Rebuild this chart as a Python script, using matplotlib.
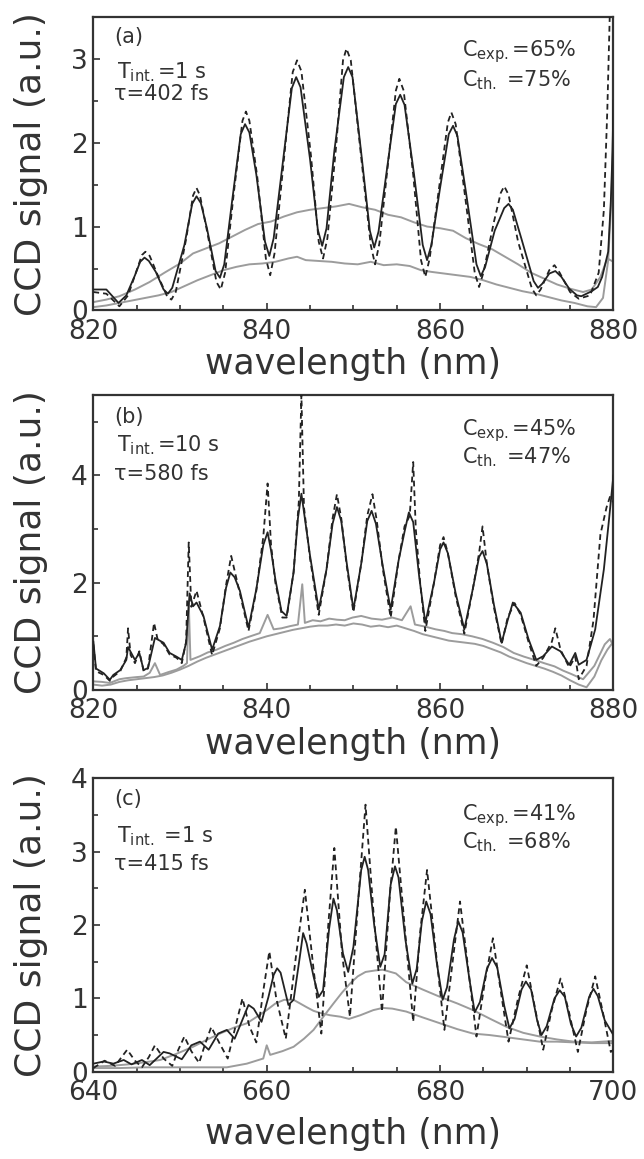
import matplotlib
matplotlib.use("Agg")
import matplotlib.pyplot as plt
from matplotlib.ticker import MultipleLocator

plt.rcParams['font.family'] = ['DejaVu Sans']
plt.rcParams['mathtext.fontset'] = 'dejavusans'

# ---- panel (a): 820-880 nm, T_int = 1 s ----
a_solid_x = [820.0, 821.5, 822.9, 823.8, 824.8, 825.4, 825.9, 826.4, 827.2, 828.1, 828.6, 829.1, 830.5, 831.4, 831.9,
             832.4, 833.1, 834.1, 834.6, 835.1, 836.0, 837.0, 837.5, 838.0, 838.8, 839.8, 840.3, 840.8, 841.9, 842.9,
             843.4, 843.9, 845.0, 845.9, 846.4, 846.9, 847.8, 848.9, 849.4, 849.9, 850.9, 851.9, 852.4, 852.9, 854.0,
             854.9, 855.4, 855.9, 857.0, 858.0, 858.5, 859.0, 860.0, 861.0, 861.5, 862.0, 863.0, 864.2, 864.7, 865.2,
             866.3, 867.4, 867.9, 868.4, 869.4, 870.8, 871.3, 871.8, 872.6, 873.3, 874.0, 874.9, 875.8, 876.3, 877.5,
             878.2, 878.7, 879.4, 879.7, 879.9, 880.0]
a_solid_y = [0.25, 0.25, 0.09, 0.18, 0.42, 0.58, 0.63, 0.59, 0.46, 0.25, 0.20, 0.27, 0.78, 1.27, 1.36,
             1.28, 0.98, 0.47, 0.39, 0.55, 1.30, 2.10, 2.22, 2.12, 1.62, 0.82, 0.65, 0.86, 1.80, 2.65,
             2.78, 2.66, 1.80, 0.96, 0.77, 0.98, 1.90, 2.78, 2.90, 2.78, 1.88, 0.95, 0.75, 0.94, 1.78,
             2.46, 2.57, 2.45, 1.62, 0.78, 0.60, 0.78, 1.46, 2.10, 2.20, 2.08, 1.40, 0.55, 0.41, 0.52,
             0.95, 1.22, 1.27, 1.20, 0.85, 0.35, 0.27, 0.32, 0.44, 0.47, 0.40, 0.26, 0.18, 0.17, 0.23,
             0.28, 0.40, 0.70, 1.30, 1.90, 2.50]
a_dash_x = [820.0, 821.5, 823.0, 824.0, 825.0, 825.6, 826.0, 826.5, 827.3, 828.5, 829.0, 829.5, 830.7, 831.5, 831.9,
            832.3, 833.2, 834.2, 834.7, 835.2, 836.2, 837.2, 837.6, 838.0, 838.9, 839.9, 840.4, 840.9, 842.0, 843.0,
            843.5, 844.0, 845.1, 846.0, 846.5, 847.0, 848.0, 848.8, 849.2, 849.7, 850.8, 852.0, 852.5, 853.0, 854.1,
            854.9, 855.3, 855.8, 856.9, 857.8, 858.3, 858.8, 860.0, 860.9, 861.3, 861.8, 862.9, 864.0, 864.5, 865.0,
            866.2, 867.0, 867.4, 867.9, 869.0, 870.6, 871.1, 871.6, 872.6, 873.2, 873.8, 875.0, 876.0, 877.3, 878.3,
            878.9, 879.3, 879.6]
a_dash_y = [0.22, 0.20, 0.05, 0.18, 0.48, 0.66, 0.70, 0.65, 0.45, 0.17, 0.13, 0.22, 0.85, 1.37, 1.46,
            1.37, 0.90, 0.34, 0.25, 0.45, 1.40, 2.26, 2.37, 2.26, 1.60, 0.62, 0.42, 0.68, 1.82, 2.84,
            2.98, 2.85, 1.85, 0.82, 0.62, 0.86, 1.95, 2.98, 3.12, 2.98, 1.92, 0.78, 0.55, 0.80, 1.85,
            2.62, 2.76, 2.62, 1.62, 0.60, 0.40, 0.62, 1.55, 2.24, 2.36, 2.22, 1.35, 0.45, 0.28, 0.45,
            1.05, 1.40, 1.48, 1.38, 0.82, 0.26, 0.18, 0.25, 0.48, 0.54, 0.45, 0.22, 0.14, 0.18, 0.45,
            1.20, 2.40, 3.60]
a_gray1_x = [820.0, 821.5, 823.0, 824.8, 826.5, 828.2, 830.0, 831.5, 833.0, 834.5, 836.0, 837.5, 839.0, 840.5,
             842.0, 843.5, 845.0, 846.5, 848.0, 849.5, 851.0, 852.5, 854.0, 855.5, 857.0, 858.5, 860.0, 861.5,
             863.0, 864.5, 866.0, 867.5, 869.0, 870.5, 872.0, 873.5, 875.0, 876.5, 877.5, 878.5, 879.3, 880.0]
a_gray1_y = [0.10, 0.13, 0.17, 0.25, 0.34, 0.45, 0.56, 0.68, 0.74, 0.80, 0.88, 0.96, 1.03, 1.06,
             1.12, 1.17, 1.20, 1.22, 1.24, 1.27, 1.23, 1.20, 1.14, 1.11, 1.05, 1.00, 0.98, 0.95,
             0.86, 0.79, 0.73, 0.64, 0.55, 0.45, 0.38, 0.31, 0.26, 0.22, 0.25, 0.40, 0.62, 0.58]
a_gray2_x = [820.0, 821.5, 823.0, 824.5, 826.0, 827.5, 829.0, 830.5, 832.0, 833.5, 835.0, 836.5, 838.0, 839.5,
             841.0, 842.5, 843.5, 844.5, 846.0, 847.5, 849.0, 850.5, 852.0, 853.5, 855.0, 856.5, 857.8, 859.0,
             860.5, 862.0, 863.5, 865.0, 866.5, 868.0, 869.5, 871.0, 872.5, 874.0, 875.5, 877.0, 878.0, 878.8,
             879.4, 879.8, 880.0]
a_gray2_y = [0.04, 0.06, 0.09, 0.12, 0.15, 0.18, 0.22, 0.29, 0.36, 0.42, 0.48, 0.52, 0.55, 0.56,
             0.58, 0.62, 0.64, 0.60, 0.59, 0.58, 0.56, 0.55, 0.58, 0.54, 0.55, 0.53, 0.48, 0.46,
             0.44, 0.42, 0.40, 0.36, 0.31, 0.27, 0.23, 0.20, 0.16, 0.12, 0.09, 0.05, 0.04, 0.15,
             0.60, 1.40, 2.30]

# ---- panel (b): 820-880 nm, T_int = 10 s ----
b_solid_x = [820.0, 820.3, 821.2, 821.9, 822.3, 823.1, 823.8, 824.0, 824.8, 825.3, 825.8, 826.3, 827.1, 828.1, 828.8,
             829.6, 830.2, 830.7, 831.1, 831.5, 831.9, 832.7, 833.7, 834.6, 835.3, 835.8, 836.3, 836.9, 837.9, 838.8,
             839.6, 840.1, 840.5, 841.0, 841.7, 842.3, 843.1, 843.6, 844.0, 844.4, 845.0, 846.0, 846.9, 847.6, 848.1,
             848.6, 849.2, 850.0, 850.9, 851.6, 852.1, 852.6, 853.4, 854.3, 855.2, 855.9, 856.4, 856.9, 857.6, 858.3,
             859.3, 860.0, 860.4, 860.9, 861.8, 862.8, 863.8, 864.5, 864.9, 865.4, 866.2, 867.1, 867.8, 868.4, 869.3,
             870.2, 871.1, 871.9, 872.9, 873.9, 874.9, 875.6, 876.0, 876.9, 877.9, 878.9, 879.5, 880.0]
b_solid_y = [0.90, 0.40, 0.31, 0.19, 0.28, 0.37, 0.56, 0.80, 0.56, 0.69, 0.37, 0.41, 0.97, 0.88, 0.69,
             0.62, 0.56, 0.88, 1.80, 1.56, 1.63, 1.38, 0.75, 1.19, 1.90, 2.19, 2.10, 1.85, 1.16, 1.88,
             2.70, 2.94, 2.60, 2.06, 1.47, 1.38, 2.19, 3.20, 3.66, 3.20, 2.50, 1.50, 2.25, 3.10, 3.41,
             3.15, 2.40, 1.50, 2.35, 3.15, 3.34, 3.10, 2.30, 1.50, 2.40, 2.95, 3.31, 3.13, 2.10, 1.25,
             2.00, 2.62, 2.75, 2.55, 1.80, 1.13, 1.90, 2.48, 2.59, 2.35, 1.60, 0.88, 1.30, 1.63, 1.44,
             0.95, 0.56, 0.63, 0.81, 0.72, 0.47, 0.69, 0.47, 0.56, 1.13, 2.25, 3.19, 4.00]
b_dash_x = [820.0, 820.3, 821.2, 821.9, 822.3, 823.1, 823.8, 824.0, 824.3, 824.8, 825.3, 825.8, 826.3, 827.0, 827.4,
            828.1, 828.8, 829.6, 830.2, 830.7, 831.0, 831.3, 831.9, 832.7, 833.7, 834.6, 835.3, 835.9, 836.4, 836.9,
            837.9, 838.8, 839.6, 840.1, 840.5, 841.0, 841.8, 842.3, 843.1, 843.7, 844.0, 844.3, 845.0, 846.0, 846.9,
            847.6, 848.1, 848.6, 849.2, 850.0, 850.9, 851.6, 852.2, 852.7, 853.4, 854.3, 855.2, 855.9, 856.5, 856.9,
            857.2, 857.7, 858.3, 859.3, 860.0, 860.4, 860.9, 861.8, 862.8, 863.8, 864.5, 864.9, 865.4, 866.2, 867.1,
            867.8, 868.6, 869.3, 870.2, 871.1, 871.9, 872.9, 873.3, 873.9, 874.9, 875.6, 876.0, 876.9, 877.7, 878.5,
            879.2, 879.6, 880.0]
b_dash_y = [0.85, 0.35, 0.28, 0.17, 0.25, 0.35, 0.60, 1.15, 0.65, 0.50, 0.72, 0.35, 0.40, 1.25, 0.95,
            0.85, 0.66, 0.60, 0.50, 0.90, 2.75, 1.55, 1.85, 1.35, 0.65, 1.15, 1.95, 2.50, 2.15, 1.80,
            1.10, 1.85, 2.85, 3.85, 2.70, 2.00, 1.35, 1.35, 2.20, 3.50, 5.50, 3.40, 2.45, 1.40, 2.25,
            3.20, 3.65, 3.20, 2.35, 1.45, 2.35, 3.25, 3.65, 3.15, 2.25, 1.35, 2.40, 3.05, 3.25, 4.25,
            3.00, 2.00, 1.10, 2.00, 2.70, 2.85, 2.55, 1.75, 1.05, 1.90, 2.55, 3.05, 2.35, 1.55, 0.85,
            1.35, 1.62, 1.40, 0.90, 0.45, 0.60, 0.90, 1.15, 0.75, 0.42, 0.62, 0.20, 0.45, 1.30, 2.90,
            3.40, 3.60, 3.50]
b_gray1_x = [820.0, 821.0, 821.9, 823.0, 823.8, 825.0, 825.8, 826.5, 827.1, 827.7, 828.6, 829.6, 830.4, 830.8,
             831.0, 831.2, 832.3, 833.2, 834.2, 835.2, 836.2, 837.2, 838.1, 839.2, 840.1, 840.8, 841.7, 842.7,
             843.6, 844.1, 844.4, 845.3, 846.2, 847.2, 848.1, 849.0, 849.9, 850.9, 852.1, 853.3, 854.5, 855.6,
             856.6, 857.1, 858.3, 859.5, 860.5, 861.4, 862.5, 863.7, 864.9, 866.1, 867.3, 868.5, 869.7, 870.9,
             872.0, 873.2, 874.2, 875.1, 876.5, 877.8, 879.0, 879.6, 880.0]
b_gray1_y = [0.16, 0.15, 0.13, 0.20, 0.22, 0.24, 0.25, 0.32, 0.50, 0.28, 0.33, 0.38, 0.45, 0.50,
             1.65, 0.56, 0.63, 0.70, 0.75, 0.82, 0.88, 0.95, 1.00, 1.06, 1.40, 1.13, 1.15, 1.19,
             1.22, 1.97, 1.25, 1.30, 1.28, 1.33, 1.31, 1.30, 1.35, 1.38, 1.33, 1.31, 1.35, 1.30,
             1.56, 1.22, 1.18, 1.13, 1.10, 1.06, 1.04, 1.00, 0.95, 0.88, 0.80, 0.69, 0.62, 0.56,
             0.50, 0.44, 0.36, 0.30, 0.20, 0.45, 0.85, 0.95, 0.82]
b_gray2_x = [820.0, 821.0, 822.0, 823.0, 824.0, 825.0, 826.0, 827.0, 828.0, 829.0, 830.0, 831.0, 832.0, 833.0,
             834.0, 835.0, 836.0, 837.0, 838.0, 839.0, 840.0, 841.0, 842.0, 843.0, 844.0, 845.0, 846.0, 847.0,
             848.0, 849.0, 850.0, 851.0, 852.0, 853.0, 854.0, 855.0, 856.0, 857.0, 858.0, 859.0, 860.0, 861.0,
             862.0, 863.0, 864.0, 865.0, 866.0, 867.0, 868.0, 869.0, 870.0, 871.0, 872.0, 873.0, 874.0, 875.0,
             876.0, 876.9, 877.8, 878.6, 879.3, 880.0]
b_gray2_y = [0.10, 0.08, 0.10, 0.15, 0.18, 0.20, 0.22, 0.24, 0.27, 0.32, 0.38, 0.45, 0.53, 0.60,
             0.66, 0.72, 0.78, 0.84, 0.90, 0.95, 1.00, 1.04, 1.08, 1.12, 1.15, 1.18, 1.20, 1.20,
             1.22, 1.20, 1.24, 1.22, 1.18, 1.20, 1.17, 1.20, 1.15, 1.10, 1.04, 1.00, 0.96, 0.92,
             0.90, 0.88, 0.86, 0.82, 0.76, 0.70, 0.62, 0.56, 0.50, 0.45, 0.40, 0.34, 0.27, 0.18,
             0.10, 0.05, 0.25, 0.55, 0.75, 0.90]

# ---- panel (c): 640-700 nm, T_int = 1 s ----
c_solid_x = [640.0, 641.2, 642.3, 643.5, 644.4, 645.6, 646.5, 648.1, 648.8, 650.2, 651.3, 652.3, 653.3, 654.4, 655.4,
             656.3, 657.9, 658.5, 659.4, 660.2, 660.8, 661.2, 661.6, 662.5, 663.1, 663.8, 664.2, 664.6, 665.4, 666.0,
             666.5, 667.2, 667.7, 668.1, 668.8, 669.4, 670.0, 670.9, 671.3, 671.7, 672.4, 673.1, 673.6, 674.3, 674.8,
             675.2, 676.0, 676.8, 677.3, 677.9, 678.4, 678.9, 679.6, 680.3, 680.8, 681.6, 682.1, 682.6, 683.4, 684.0,
             684.6, 685.4, 686.0, 686.6, 687.4, 688.0, 688.6, 689.4, 689.9, 690.5, 691.2, 691.7, 692.3, 693.2, 693.8,
             694.4, 695.1, 695.7, 696.3, 697.2, 697.7, 698.2, 699.0, 700.0]
c_solid_y = [0.11, 0.14, 0.11, 0.16, 0.10, 0.16, 0.09, 0.27, 0.25, 0.17, 0.36, 0.41, 0.30, 0.52, 0.57,
             0.45, 0.91, 0.86, 0.68, 1.02, 1.32, 1.41, 1.35, 0.91, 0.98, 1.55, 1.89, 1.75, 1.30, 1.02,
             1.11, 1.95, 2.36, 2.20, 1.61, 1.36, 1.70, 2.75, 2.93, 2.75, 2.00, 1.43, 1.60, 2.55, 2.80,
             2.65, 1.80, 1.20, 1.40, 2.05, 2.32, 2.15, 1.50, 0.98, 1.15, 1.80, 2.05, 1.90, 1.25, 0.81,
             0.95, 1.40, 1.55, 1.42, 0.90, 0.59, 0.72, 1.12, 1.23, 1.12, 0.70, 0.50, 0.62, 1.00, 1.11,
             1.02, 0.65, 0.48, 0.60, 1.02, 1.13, 1.03, 0.70, 0.50]
c_dash_x = [640.0, 641.3, 642.5, 643.9, 644.8, 645.6, 646.4, 647.1, 648.1, 649.1, 649.8, 650.5, 651.3, 652.2, 652.9,
            653.6, 654.5, 655.5, 656.4, 657.2, 658.0, 658.8, 659.6, 660.3, 661.1, 662.2, 663.4, 664.4, 665.4, 666.3,
            667.1, 667.8, 668.7, 669.6, 670.6, 671.4, 672.3, 673.3, 674.2, 674.9, 675.9, 676.9, 677.7, 678.5, 679.5,
            680.5, 681.5, 682.3, 683.2, 684.2, 685.2, 686.1, 687.0, 687.9, 689.0, 690.0, 690.9, 691.9, 692.9, 693.9,
            694.9, 695.9, 696.9, 697.9, 698.8, 699.7, 700.0]
c_dash_y = [0.05, 0.15, 0.08, 0.30, 0.15, 0.06, 0.20, 0.36, 0.18, 0.08, 0.30, 0.48, 0.28, 0.12, 0.38,
            0.61, 0.40, 0.18, 0.62, 1.00, 0.62, 0.40, 1.10, 1.64, 1.00, 0.45, 1.60, 2.48, 1.40, 0.52,
            2.00, 3.05, 1.60, 0.75, 2.40, 3.64, 2.20, 0.82, 2.40, 3.34, 2.00, 0.68, 1.90, 2.75, 1.65,
            0.57, 1.55, 2.32, 1.45, 0.48, 1.25, 1.82, 1.10, 0.41, 1.00, 1.45, 0.90, 0.30, 0.85, 1.27,
            0.80, 0.27, 0.85, 1.30, 0.80, 0.27, 0.30]
c_gray1_x = [640.0, 642.0, 644.0, 646.0, 647.7, 649.5, 651.5, 653.0, 654.6, 656.2, 657.7, 659.0, 660.0, 661.0,
             662.0, 663.1, 664.0, 664.6, 665.4, 666.2, 667.3, 668.5, 669.5, 670.8, 672.3, 673.4, 674.5, 676.1,
             678.0, 680.0, 682.0, 683.8, 685.7, 687.7, 689.6, 691.5, 693.5, 695.4, 697.5, 700.0]
c_gray1_y = [0.07, 0.08, 0.10, 0.13, 0.16, 0.24, 0.34, 0.43, 0.52, 0.60, 0.66, 0.76, 0.84, 0.93,
             0.98, 0.98, 0.92, 0.88, 0.83, 0.80, 0.77, 0.75, 0.72, 0.77, 0.84, 0.87, 0.86, 0.82,
             0.74, 0.66, 0.58, 0.52, 0.50, 0.47, 0.44, 0.41, 0.41, 0.40, 0.39, 0.39]
c_gray2_x = [640.0, 643.0, 646.0, 649.0, 652.0, 655.4, 657.7, 659.6, 660.0, 660.4, 661.8, 663.1, 664.3, 665.4,
             666.6, 667.7, 668.7, 669.6, 670.5, 671.4, 672.5, 673.4, 674.9, 676.1, 678.0, 680.0, 682.0, 683.8,
             685.8, 687.7, 689.6, 691.5, 693.5, 695.4, 697.5, 700.0]
c_gray2_y = [0.05, 0.05, 0.06, 0.06, 0.06, 0.06, 0.11, 0.18, 0.36, 0.23, 0.28, 0.34, 0.45, 0.57,
             0.76, 0.93, 1.08, 1.20, 1.30, 1.36, 1.38, 1.39, 1.34, 1.22, 1.12, 1.02, 0.93, 0.84,
             0.72, 0.61, 0.53, 0.48, 0.44, 0.41, 0.40, 0.42]

panel_tags = ['(a)', '(b)', '(c)']
t_int_text = [r'T$_{\rm int.}$=1 s', r'T$_{\rm int.}$=10 s', r'T$_{\rm int.}$ =1 s']
tau_text = ['τ=402 fs', 'τ=580 fs', 'τ=415 fs']
c_exp_text = [r'C$_{\rm exp.}$=65%', r'C$_{\rm exp.}$=45%', r'C$_{\rm exp.}$=41%']
c_th_text = [r'C$_{\rm th.}$ =75%', r'C$_{\rm th.}$ =47%', r'C$_{\rm th.}$ =68%']
x_ranges = [(820, 880), (820, 880), (640, 700)]
x_ticks = [[820, 840, 860, 880], [820, 840, 860, 880], [640, 660, 680, 700]]
y_tops = [3.5, 5.5, 4.0]
y_major = [1, 2, 1]
y_minor = [0.5, 1, 0.5]

curves = [
    (a_solid_x, a_solid_y, a_dash_x, a_dash_y, a_gray1_x, a_gray1_y, a_gray2_x, a_gray2_y),
    (b_solid_x, b_solid_y, b_dash_x, b_dash_y, b_gray1_x, b_gray1_y, b_gray2_x, b_gray2_y),
    (c_solid_x, c_solid_y, c_dash_x, c_dash_y, c_gray1_x, c_gray1_y, c_gray2_x, c_gray2_y),
]

# axes rectangles (left, bottom, width, height) in figure fraction
rects = [(0.145, 0.7321, 0.8075, 0.2535),
         (0.145, 0.4047, 0.8075, 0.2545),
         (0.145, 0.0753, 0.8075, 0.2532)]
xlabel_y = [-0.125, -0.125, -0.155]
# baseline positions of the text lines (axes fraction)
tag_y = [0.91, 0.904, 0.909]
tint_y = [0.79, 0.808, 0.783]
tau_y = [0.716, 0.712, 0.687]
cexp_y = [0.864, 0.864, 0.858]
cth_y = [0.764, 0.768, 0.761]

ink = '#222222'
gray = '#9c9c9c'
frame = '#333333'

fig = plt.figure(figsize=(6.44, 11.59), dpi=100)

for i in range(3):
    ax = fig.add_axes(rects[i])
    sx, sy, dx, dy, g1x, g1y, g2x, g2y = curves[i]
    ax.plot(g1x, g1y, color=gray, lw=1.4, zorder=2)
    ax.plot(g2x, g2y, color=gray, lw=1.4, zorder=2)
    ax.plot(dx, dy, color=ink, lw=1.3, dashes=(3.2, 2.2), zorder=3)
    ax.plot(sx, sy, color=ink, lw=1.3, zorder=4)

    ax.set_xlim(*x_ranges[i])
    ax.set_ylim(0, y_tops[i])
    ax.set_xticks(x_ticks[i])
    ax.xaxis.set_minor_locator(MultipleLocator(5))
    ax.yaxis.set_major_locator(MultipleLocator(y_major[i]))
    ax.yaxis.set_minor_locator(MultipleLocator(y_minor[i]))
    ax.tick_params(which='both', direction='in', top=False, right=False,
                   colors=frame, labelcolor=frame, labelsize=19, width=1.2)
    ax.tick_params(axis='x', which='major', length=5, pad=6)
    ax.tick_params(axis='y', which='major', length=5, pad=4)
    ax.tick_params(which='minor', length=3.5)
    for sp in ax.spines.values():
        sp.set_color(frame)
        sp.set_linewidth(1.6)

    ax.set_xlabel('wavelength (nm)', fontsize=25, color=frame)
    ax.xaxis.set_label_coords(0.5, xlabel_y[i])
    ax.set_ylabel('CCD signal (a.u.)', fontsize=26, color=frame)
    ax.yaxis.set_label_coords(-0.087, 0.5)

    tk = dict(transform=ax.transAxes, fontsize=15, color=frame, va='baseline', ha='left')
    ax.text(0.04, tag_y[i], panel_tags[i], **tk)
    ax.text(0.045, tint_y[i], t_int_text[i], **tk)
    ax.text(0.04, tau_y[i], tau_text[i], **tk)
    ax.text(0.708, cexp_y[i], c_exp_text[i], **tk)
    ax.text(0.708, cth_y[i], c_th_text[i], **tk)

fig.savefig('out.png', dpi=100)
